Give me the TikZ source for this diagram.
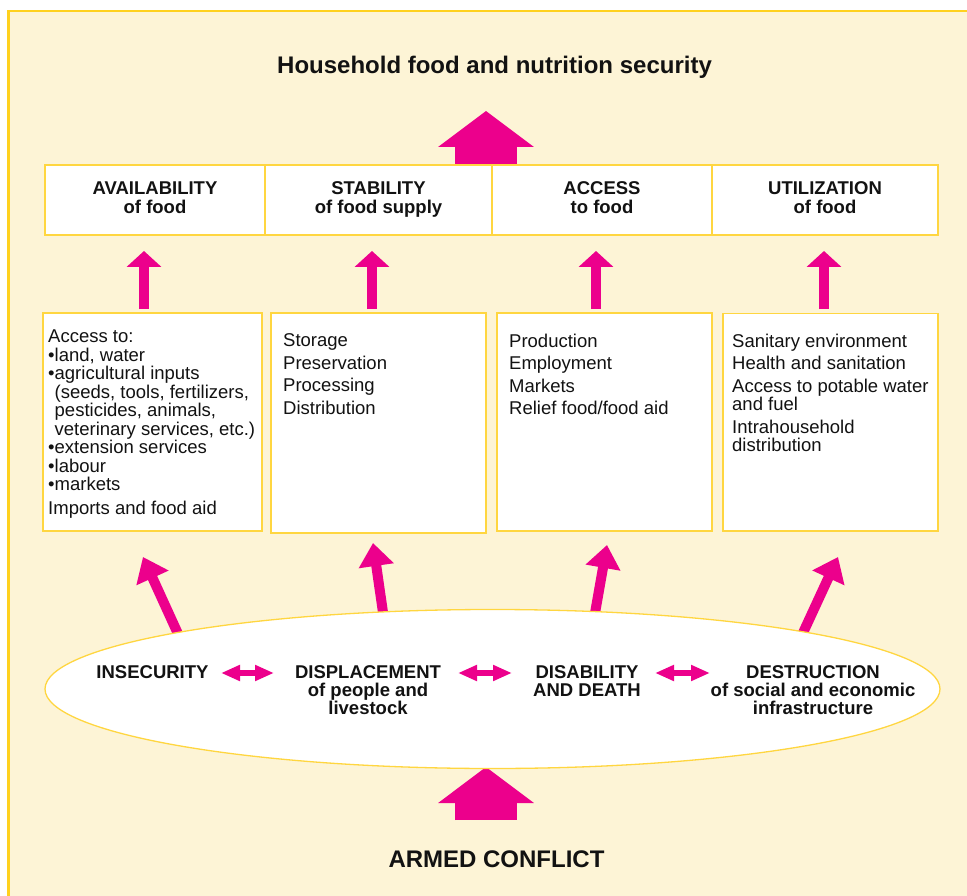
\documentclass[tikz,border=0pt]{standalone}
\usepackage{fontspec}
\setmainfont{Liberation Sans}
\usetikzlibrary{arrows.meta,shapes.geometric}
\definecolor{cream}{RGB}{253,244,214}
\definecolor{borderyellow}{RGB}{255,209,30}
\definecolor{boxyellow}{RGB}{255,214,64}
\definecolor{arrowpink}{RGB}{236,0,140}
\definecolor{ink}{RGB}{18,18,18}
\begin{document}
\begin{tikzpicture}[x=1pt,y=-1pt,
  bigarrow/.style={draw=arrowpink, line width=62pt, -{Triangle[length=36pt,width=94pt]}},
  smallarrow/.style={draw=arrowpink, line width=10pt, -{Triangle[length=16pt,width=34pt]}},
  tiltarrow/.style={draw=arrowpink, line width=10pt, -{Triangle[length=23pt,width=34pt]}},
  dblarrow/.style={draw=arrowpink, line width=6pt, {Triangle[length=19pt,width=15pt]}-{Triangle[length=19pt,width=15pt]}},
  hdrbox/.style={draw=boxyellow, fill=white, line width=1.3pt, minimum height=70pt, inner sep=0pt, outer sep=0pt, anchor=north west, align=center, text=ink, font=\fontsize{18.5}{19}\selectfont\bfseries, text height=32.3pt, text depth=4.8pt},
  midbox/.style={draw=boxyellow, fill=white, line width=1.3pt, inner sep=0pt, outer sep=0pt, anchor=north west},
  bodytext/.style={anchor=north west, inner sep=0pt, align=left, text=ink, font=\fontsize{18.5}{18.5}\selectfont},
  conflbl/.style={anchor=north, inner sep=0pt, align=center, text=ink, font=\fontsize{18.5}{18.2}\selectfont\bfseries},
  bigtitle/.style={anchor=base, inner sep=0pt, text=ink, font=\fontsize{24}{28}\selectfont\bfseries}
]
\clip (0,0) rectangle (967,896);
\fill[white] (0,0) rectangle (967,896);
\draw[fill=cream, draw=borderyellow, line width=2.5pt] (8.7,10.8) rectangle (990,920);

% title
\node[bigtitle] (title) at (494.5,74) {Household food and nutrition security};

% big top arrow
\coordinate (ta0) at (486,166);
\coordinate (ta1) at (486,111);
\draw[bigarrow] (ta0) -- (ta1);

% header boxes
\node[hdrbox, minimum width=220pt] (avail) at (45,165) {AVAILABILITY\\of food};
\node[hdrbox, minimum width=227pt] (stab) at (265,165) {STABILITY\\of food supply};
\node[hdrbox, minimum width=220pt] (acc) at (492,165) {ACCESS\\to food};
\node[hdrbox, minimum width=226pt] (util) at (712,165) {UTILIZATION\\of food};

% small arrows
\coordinate (s1a) at (144,309); \coordinate (s1b) at (144,251);
\coordinate (s2a) at (372,309); \coordinate (s2b) at (372,251);
\coordinate (s3a) at (596,309); \coordinate (s3b) at (596,251);
\coordinate (s4a) at (824,309); \coordinate (s4b) at (824,251);
\draw[smallarrow] (s1a) -- (s1b);
\draw[smallarrow] (s2a) -- (s2b);
\draw[smallarrow] (s3a) -- (s3b);
\draw[smallarrow] (s4a) -- (s4b);

% middle boxes
\node[midbox, minimum width=219pt, minimum height=218pt] (m1) at (43,313) {};
\node[midbox, minimum width=215pt, minimum height=220pt] (m2) at (271,313) {};
\node[midbox, minimum width=215pt, minimum height=218pt] (m3) at (497,313) {};
\node[midbox, minimum width=215pt, minimum height=217.5pt] (m4) at (723,313.5) {};

\node[bodytext] (t1) at (48,330) {Access to:\\
•land, water\\
•agricultural inputs\\
\phantom{•}(seeds, tools, fertilizers,\\
\phantom{•}pesticides, animals,\\
\phantom{•}veterinary services, etc.)\\
•extension services\\
•labour\\
•markets\\[5pt]
Imports and food aid};
\node[bodytext] (t2) at (283,333.8) {Storage\\[4pt]Preservation\\[4pt]Processing\\[4pt]Distribution};
\node[bodytext] (t3) at (509,333.8) {Production\\[4pt]Employment\\[4pt]Markets\\[4pt]Relief food/food aid};
\node[bodytext] (t4) at (732,333.8) {Sanitary environment\\[4pt]Health and sanitation\\[4pt]Access to potable water\\and fuel\\[4pt]Intrahousehold\\distribution};

% tilted arrows from the ellipse
\coordinate (e1) at (179,636); \coordinate (u1) at (143,557);
\coordinate (e2) at (383.5,616); \coordinate (u2) at (373,543);
\coordinate (e3) at (594.5,616); \coordinate (u3) at (607,545);
\coordinate (e4) at (802,635); \coordinate (u4) at (838,557);
\draw[tiltarrow] (e1) -- (u1);
\draw[tiltarrow] (e2) -- (u2);
\draw[tiltarrow] (e3) -- (u3);
\draw[tiltarrow] (e4) -- (u4);

% bottom big arrow
\coordinate (ba0) at (486,820);
\coordinate (ba1) at (486,767);
\draw[bigarrow] (ba0) -- (ba1);

% ellipse
\node[ellipse, draw=boxyellow, fill=white, line width=1.3pt, minimum width=895pt, minimum height=159pt, inner sep=0pt] (conflict) at (492.5,689) {};

\node[conflbl] (insec) at (152.5,665) {INSECURITY};
\node[conflbl] (displ) at (368,665) {DISPLACEMENT\\of people and\\livestock};
\node[conflbl] (disab) at (587,665) {DISABILITY\\AND DEATH};
\node[conflbl] (destr) at (813,665) {DESTRUCTION\\of social and economic\\infrastructure};

\coordinate (d1a) at (221,673); \coordinate (d1b) at (274,673);
\coordinate (d2a) at (458,673); \coordinate (d2b) at (512,673);
\coordinate (d3a) at (655,673); \coordinate (d3b) at (710,673);
\draw[dblarrow] (d1a) -- (d1b);
\draw[dblarrow] (d2a) -- (d2b);
\draw[dblarrow] (d3a) -- (d3b);

\node[bigtitle] (armed) at (496.5,867) {ARMED CONFLICT};
\end{tikzpicture}
\end{document}
